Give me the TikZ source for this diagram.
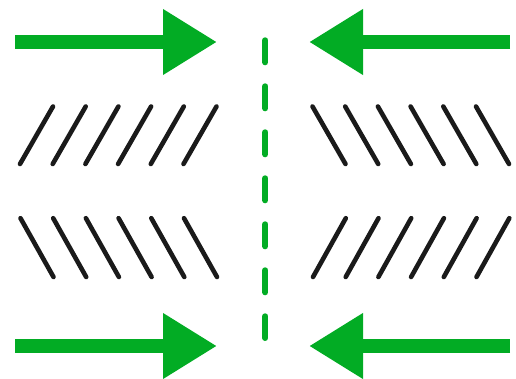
\documentclass[tikz,border=0pt]{standalone}
\usetikzlibrary{arrows.meta}
\definecolor{arrowgreen}{RGB}{2,172,36}
\definecolor{strokeblack}{RGB}{26,26,26}
\tikzset{
  bigarrow/.style={draw=arrowgreen, line width=13.5pt, -{Triangle[length=54pt,width=62pt]}, color=arrowgreen},
  hatch/.style={draw=strokeblack, line width=4.6pt, line cap=round},
  divider/.style={draw=arrowgreen, line width=6pt, line cap=round, dash pattern=on 22pt off 24pt}
}
\begin{document}
\begin{tikzpicture}[x=1pt,y=-1pt]
\useasboundingbox (0,0) rectangle (516,379);
% arrows
\coordinate (tlA) at (15,42);  \coordinate (tlB) at (217,42);
\coordinate (trA) at (510,42); \coordinate (trB) at (309,42);
\coordinate (blA) at (15,346); \coordinate (blB) at (217,346);
\coordinate (brA) at (510,346);\coordinate (brB) at (309,346);
\draw[bigarrow] (tlA) -- (tlB);
\draw[bigarrow] (trA) -- (trB);
\draw[bigarrow] (blA) -- (blB);
\draw[bigarrow] (brA) -- (brB);
% dashed divider
\coordinate (dTop) at (265.3,40.3);
\coordinate (dBot) at (265.3,338);
\draw[divider] (dTop) -- (dBot);
% hatch groups
\foreach \i in {0,...,5} {
  \pgfmathsetmacro{\dx}{32.7*\i}
  % top-left: /
  \draw[hatch] (20+\dx,164) -- (53+\dx,106.5);
  % top-right: \
  \draw[hatch] (312.5+\dx,106.5) -- (345.5+\dx,164);
  % bottom-left: \
  \draw[hatch] (20.5+\dx,218.2) -- (53.5+\dx,277);
  % bottom-right: /
  \draw[hatch] (313+\dx,277) -- (345.8+\dx,218.2);
}
\end{tikzpicture}
\end{document}
